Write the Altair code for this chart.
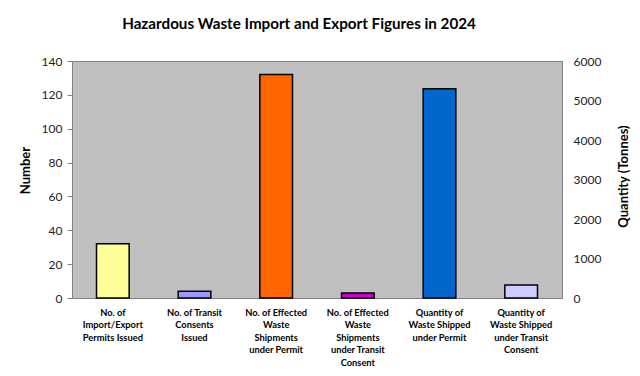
import altair as alt
import pandas as pd

categories = [
    "No. of|Import/Export|Permits Issued",
    "No. of Transit|Consents|Issued",
    "No. of Effected|Waste|Shipments|under Permit",
    "No. of Effected|Waste|Shipments|under Transit|Consent",
    "Quantity of|Waste Shipped|under Permit",
    "Quantity of|Waste Shipped|under Transit|Consent",
]
count_categories = categories[:4]
counts = [32, 4, 132, 3]
tonne_categories = categories[4:]
tonnes = [5300, 330]
colors = ["#FFFF99", "#9999FF", "#FF6600", "#CC00CC", "#0066CC", "#CCCCFF"]

FONT = "Lato"

df_counts = pd.DataFrame({"cat": count_categories, "value": counts})
df_tonnes = pd.DataFrame({"cat": tonne_categories, "value": tonnes})

x = alt.X(
    "cat:N",
    sort=categories,
    scale=alt.Scale(domain=categories, paddingInner=0.6, paddingOuter=0.3),
    axis=alt.Axis(
        title=None, labelAngle=0, labelExpr="split(datum.value, '|')",
        labelFontWeight="bold", labelFontSize=9.3, labelLineHeight=12.5,
        ticks=False, domain=False, labelPadding=10, labelBaseline="top",
        labelColor="#000000", labelFont=FONT,
    ),
)
color = alt.Color("cat:N", scale=alt.Scale(domain=categories, range=colors), legend=None)

left = alt.Chart(df_counts).mark_bar(stroke="#000000", strokeWidth=1.5).encode(
    x=x,
    y=alt.Y(
        "value:Q",
        scale=alt.Scale(domain=[0, 140]),
        axis=alt.Axis(
            title="Number", values=list(range(0, 141, 20)), grid=False, domain=False,
            tickSize=5, tickColor="#808080", labelPadding=5, labelFontSize=12,
            labelColor="#222222", titleFontSize=13, titleFontWeight="bold",
            titleColor="#000000", titleX=-47, titleY=109, titleBaseline="middle",
            titleAngle=270, labelFont=FONT, titleFont=FONT,
        ),
    ),
    color=color,
)

right = alt.Chart(df_tonnes).mark_bar(stroke="#000000", strokeWidth=1.5).encode(
    x=x,
    y=alt.Y(
        "value:Q",
        scale=alt.Scale(domain=[0, 6000]),
        axis=alt.Axis(
            orient="right", title="Quantity (Tonnes)", values=list(range(0, 6001, 1000)),
            format="d", grid=False, domain=False, ticks=False, labelPadding=11,
            labelFontSize=12, labelColor="#222222", titleFontSize=13,
            titleFontWeight="bold", titleColor="#000000", titleX=61, titleY=115,
            titleBaseline="middle", titleAngle=270, labelFont=FONT, titleFont=FONT,
        ),
    ),
    color=color,
)

chart = (
    alt.layer(left, right)
    .resolve_scale(y="independent")
    .properties(
        width=490,
        height=237,
        autosize=alt.AutoSizeParams(type="none"),
        padding={"left": 64, "top": 53, "right": 70, "bottom": 70},
        view=alt.ViewBackground(fill="#C0C0C0", stroke="#808080", strokeWidth=1),
        title=alt.TitleParams(
            "Hazardous Waste Import and Export Figures in 2024",
            anchor="middle", frame="group", dx=-18, offset=23, fontSize=15.2,
            font=FONT, fontWeight="bold", color="#000000",
        ),
    )
    .configure_view(fill="#C0C0C0", stroke="#808080", strokeWidth=1)
    .configure(background="#FFFFFF")
)

chart.save("out.html", embed_options={"renderer": "svg", "actions": False})
